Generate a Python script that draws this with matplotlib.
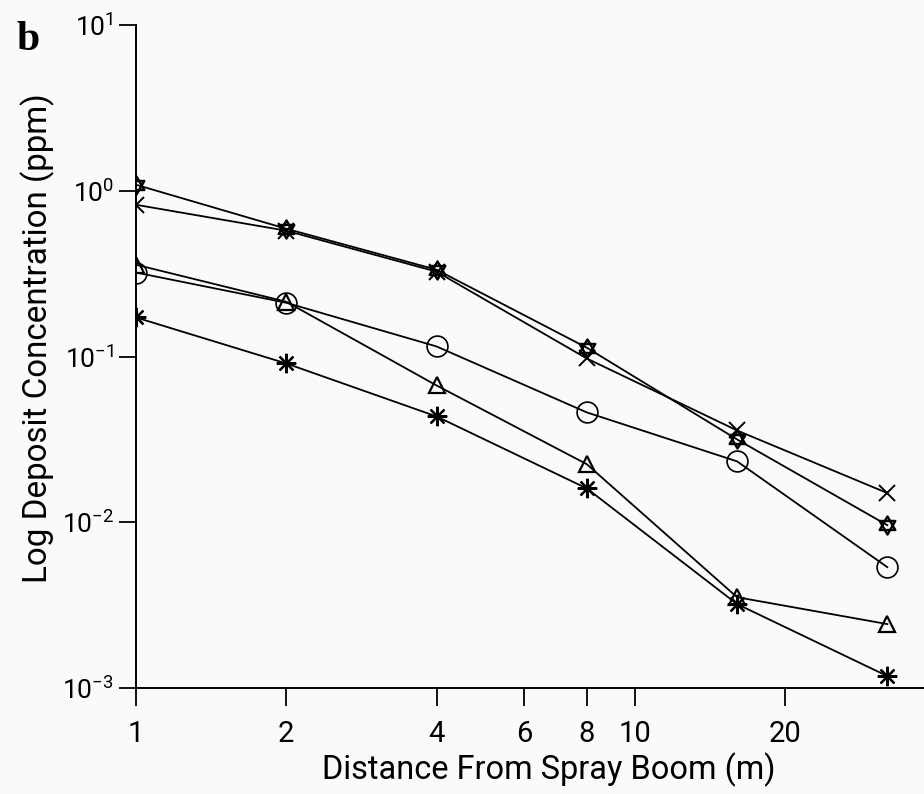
import matplotlib
matplotlib.use("Agg")
import matplotlib.pyplot as plt
from matplotlib import font_manager
from matplotlib.path import Path
from matplotlib.ticker import FixedLocator, FixedFormatter, NullLocator

# ---------------- data ----------------
distance = [1, 2, 4, 8, 16, 32]
series_star = [1.087, 0.59, 0.334, 0.113, 0.0316, 0.0096]
series_cross = [0.823, 0.574, 0.325, 0.0973, 0.0358, 0.0150]
series_circle = [0.321, 0.211, 0.115, 0.046, 0.0233, 0.00536]
series_triangle = [0.358, 0.214, 0.0669, 0.0224, 0.00353, 0.00243]
series_asterisk = [0.172, 0.0908, 0.0435, 0.0160, 0.00321, 0.00118]

x_ticks = [1, 2, 4, 6, 8, 10, 20]
x_tick_labels = ["1", "2", "4", "6", "8", "10", "20"]
y_ticks = [1e-3, 1e-2, 1e-1, 1e0, 1e1]
y_tick_labels = [r"$10^{-3}$", r"$10^{-2}$", r"$10^{-1}$", r"$10^{0}$", r"$10^{1}$"]

x_label = "Distance From Spray Boom (m)"
y_label = "Log Deposit Concentration (ppm)"
panel_label = "b"

# ---------------- fonts ----------------
available = {f.name for f in font_manager.fontManager.ttflist}
family = "Roboto" if "Roboto" in available else "DejaVu Sans"
plt.rcParams["font.family"] = [family, "DejaVu Sans"]
plt.rcParams["mathtext.fontset"] = "custom"
plt.rcParams["mathtext.rm"] = family
plt.rcParams["mathtext.default"] = "regular"

W, H = 924, 794
DPI = 100
bg = "#fafafa"
fig = plt.figure(figsize=(W / DPI, H / DPI), dpi=DPI, facecolor=bg)

ax_left, ax_right, ax_top, ax_bottom = 136, 924, 25, 688
ax = fig.add_axes([ax_left / W, 1 - ax_bottom / H, (ax_right - ax_left) / W,
                   (ax_bottom - ax_top) / H])
ax.set_facecolor(bg)
ax.set_xscale("log")
ax.set_yscale("log")
ax.set_xlim(1, 37.9)
ax.set_ylim(1e-3, 1e1)

# star of David marker
hexagram = Path.make_compound_path(
    Path([(0, 1), (-0.866, -0.5), (0.866, -0.5), (0, 1)], closed=True),
    Path([(0, -1), (-0.866, 0.5), (0.866, 0.5), (0, -1)], closed=True),
)

lw = 1.3
common = dict(color="black", lw=lw, markeredgecolor="black", clip_on=True)
ax.plot(distance, series_cross, marker="x", ms=11, mew=1.4, **common)
ax.plot(distance, series_star, marker=hexagram, ms=13, mew=1.7, mfc="none", **common)
ax.plot(distance, series_circle, marker="o", ms=15, mew=1.2, mfc="none", **common)
ax.plot(distance, series_triangle, marker="^", ms=12, mew=1.6, mfc="none", **common)
ax.plot(distance, series_asterisk, marker=(8, 2, 0), ms=14, mew=1.6, **common)

for s in ["top", "right"]:
    ax.spines[s].set_visible(False)
for s in ["left", "bottom"]:
    ax.spines[s].set_linewidth(1.4)

ax.xaxis.set_major_locator(FixedLocator(x_ticks))
ax.xaxis.set_major_formatter(FixedFormatter(x_tick_labels))
ax.xaxis.set_minor_locator(NullLocator())
ax.yaxis.set_major_locator(FixedLocator(y_ticks))
ax.yaxis.set_major_formatter(FixedFormatter(y_tick_labels))
ax.yaxis.set_minor_locator(NullLocator())

ax.tick_params(axis="x", direction="out", length=13, width=1.3, pad=10,
               labelsize=21, colors="black")
ax.tick_params(axis="y", direction="out", length=12, width=1.3, pad=4,
               labelsize=19, colors="black")

ax.set_xlabel(x_label, fontsize=22)
ax.set_ylabel(y_label, fontsize=22)

# fit label lengths to reference extents
fig.canvas.draw()
r = fig.canvas.get_renderer()
xl = ax.xaxis.label
yl = ax.yaxis.label
wx = xl.get_window_extent(r).width
xl.set_fontsize(22 * 454 / wx)
hy = yl.get_window_extent(r).height
yl.set_fontsize(22 * 490 / hy)

axw = ax_right - ax_left
axh = ax_bottom - ax_top
ax.xaxis.set_label_coords((549 - ax_left) / axw, (ax_bottom - 770) / axh)
xl.set_va("center")
ax.yaxis.set_label_coords((38 - ax_left) / axw, (ax_bottom - 338) / axh)
yl.set_va("center")
yl.set_ha("center")

fig.text(28 / W, 1 - 40 / H, panel_label, fontsize=30, fontweight="bold",
         family=["Liberation Serif", "DejaVu Serif"], ha="center", va="center")

fig.savefig("out.png", dpi=DPI, facecolor=bg)
